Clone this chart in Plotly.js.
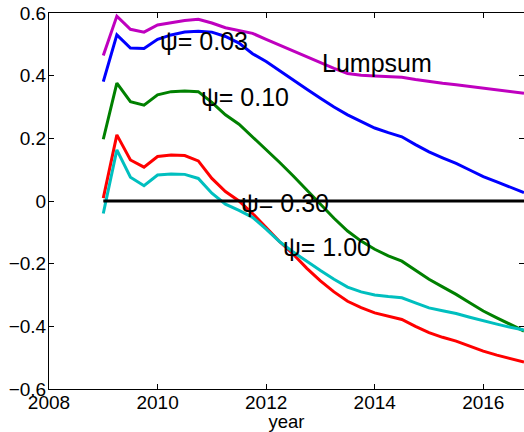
<!DOCTYPE html>
<html>
<head>
<meta charset="utf-8">
<script src="https://cdn.plot.ly/plotly-3.0.1.min.js"></script>
<style>
html,body{margin:0;padding:0;background:#fff;}
#chart{width:524px;height:432px;}
</style>
</head>
<body>
<div id="chart"></div>
<script>
var years = [2009.00, 2009.25, 2009.50, 2009.75, 2010.00, 2010.25, 2010.50, 2010.75,
             2011.00, 2011.25, 2011.50, 2011.75, 2012.00, 2012.25, 2012.50, 2012.75,
             2013.00, 2013.25, 2013.50, 2013.75, 2014.00, 2014.25, 2014.50, 2014.75,
             2015.00, 2015.25, 2015.50, 2015.75, 2016.00, 2016.25, 2016.50, 2016.75];

var psi003 = [0.381, 0.530, 0.488, 0.487, 0.516, 0.530, 0.539, 0.542,
              0.539, 0.525, 0.504, 0.470, 0.445, 0.415, 0.387, 0.357,
              0.328, 0.300, 0.275, 0.253, 0.233, 0.218, 0.205, 0.180,
              0.157, 0.138, 0.120, 0.099, 0.078, 0.061, 0.044, 0.027];

var psi010 = [0.197, 0.376, 0.317, 0.306, 0.339, 0.349, 0.351, 0.349,
              0.315, 0.275, 0.245, 0.205, 0.166, 0.123, 0.080, 0.035,
              -0.010, -0.055, -0.096, -0.128, -0.154, -0.175, -0.192, -0.221,
              -0.250, -0.274, -0.298, -0.325, -0.351, -0.373, -0.394, -0.415];

var psi030 = [0.009, 0.211, 0.131, 0.108, 0.142, 0.147, 0.145, 0.128,
              0.072, 0.030, 0.000, -0.040, -0.085, -0.130, -0.170, -0.215,
              -0.255, -0.290, -0.320, -0.340, -0.357, -0.368, -0.378, -0.400,
              -0.420, -0.435, -0.447, -0.463, -0.479, -0.492, -0.503, -0.514];

var psi100 = [-0.040, 0.163, 0.076, 0.049, 0.083, 0.086, 0.085, 0.072,
              0.025, -0.010, -0.030, -0.052, -0.090, -0.130, -0.163, -0.193,
              -0.222, -0.250, -0.275, -0.290, -0.300, -0.305, -0.309, -0.325,
              -0.341, -0.350, -0.359, -0.371, -0.383, -0.393, -0.403, -0.412];

var lumpsum = [0.464, 0.590, 0.548, 0.539, 0.562, 0.570, 0.576, 0.580,
               0.568, 0.553, 0.544, 0.535, 0.516, 0.497, 0.480, 0.461,
               0.441, 0.423, 0.407, 0.401, 0.399, 0.397, 0.395, 0.388,
               0.381, 0.376, 0.371, 0.366, 0.360, 0.355, 0.350, 0.344];

var zeroYears = [2009.00, 2016.75];
var zeroVals = [0, 0];

var seriesNames = ["ψ= 0.03", "ψ= 0.10", "ψ= 0.30", "ψ= 1.00", "Lumpsum"];
var seriesData = [psi003, psi010, psi030, psi100, lumpsum];
var seriesColors = ["#0000FF", "#008000", "#FF0000", "#00BFBF", "#BF00BF"];

var labelX = [2010.0, 2010.76, 2011.5, 2012.27, 2013.0];
var labelY = [0.51, 0.332, -0.005, -0.147, 0.441];

var traces = [];
for (var i = 0; i < seriesData.length; i++) {
  traces.push({
    x: years, y: seriesData[i], type: "scatter", mode: "lines",
    name: seriesNames[i],
    line: {color: seriesColors[i], width: 3},
    hoverinfo: "skip"
  });
}
traces.push({
  x: zeroYears, y: zeroVals, type: "scatter", mode: "lines",
  line: {color: "#000000", width: 3}, hoverinfo: "skip"
});

var annotations = [];
for (var j = 0; j < seriesNames.length; j++) {
  annotations.push({
    x: labelX[j], y: labelY[j], xref: "x", yref: "y",
    text: seriesNames[j], showarrow: false,
    xanchor: "left", yanchor: "middle",
    font: {family: "Liberation Sans, Arial, sans-serif", size: 25, color: "#000"}
  });
}

var layout = {
  width: 524, height: 432,
  margin: {l: 49, r: 0, t: 13, b: 43, pad: 0},
  paper_bgcolor: "#fff", plot_bgcolor: "#fff",
  showlegend: false,
  font: {family: "Liberation Sans, Arial, sans-serif", size: 19, color: "#000"},
  xaxis: {
    range: [2008, 2016.75], tickmode: "array",
    tickvals: [2008, 2010, 2012, 2014, 2016],
    ticktext: ["2008", "2010", "2012", "2014", "2016"],
    ticks: "inside", ticklen: 5, tickcolor: "#000", tickwidth: 1,
    showline: true, linecolor: "#000", linewidth: 1, mirror: "ticks",
    showgrid: false, zeroline: false,
    ticklabelstandoff: -4,
    title: {text: "year", font: {size: 18.5}, standoff: 0},
    tickfont: {size: 19}
  },
  yaxis: {
    range: [-0.6, 0.6], tickmode: "array",
    tickvals: [-0.6, -0.4, -0.2, 0, 0.2, 0.4, 0.6],
    ticktext: ["\u22120.6", "\u22120.4", "\u22120.2", "0", "0.2", "0.4", "0.6"],
    ticks: "inside", ticklen: 5, tickcolor: "#000", tickwidth: 1,
    showline: true, linecolor: "#000", linewidth: 1, mirror: "ticks",
    showgrid: false, zeroline: false,
    ticklabelstandoff: -2,
    tickfont: {size: 19}
  },
  annotations: annotations
};

Plotly.newPlot("chart", traces, layout, {staticPlot: true, displayModeBar: false});
</script>
</body>
</html>
